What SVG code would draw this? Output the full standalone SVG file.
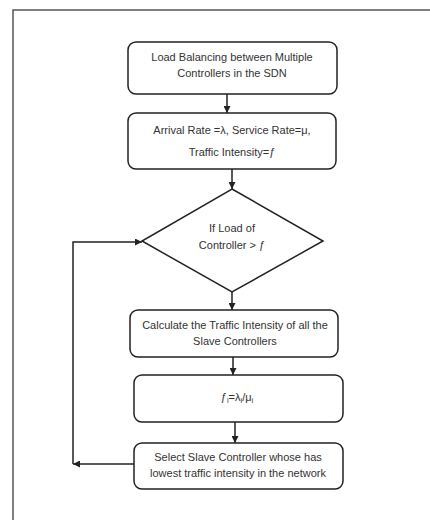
<svg xmlns="http://www.w3.org/2000/svg" width="430" height="520" viewBox="0 0 430 520">
  <style>
    .box { fill: #ffffff; stroke: #222222; stroke-width: 1.5; }
    .lbl { font-family: "Liberation Sans", Arial, sans-serif; font-size: 11px; fill: #333333; text-anchor: middle; }
    .sub { font-size: 7.5px; }
    .wire { fill: none; stroke: #222222; stroke-width: 1.5; }
  </style>
  <defs>
    <marker id="arrow" viewBox="0 0 10 10" refX="10" refY="5" markerWidth="7" markerHeight="7" markerUnits="userSpaceOnUse" orient="auto">
      <path d="M0,0 L10,5 L0,10 Z" fill="#222222"/>
    </marker>
  </defs>

  <rect width="430" height="520" fill="#ffffff"/>
  <!-- page frame -->
  <path d="M13,520 V10 H430" fill="none" stroke="#555555" stroke-width="1.5"/>

  <g id="start">
    <rect class="box" x="128" y="42" width="209" height="52" rx="8"/>
    <text class="lbl" x="232" y="61">Load Balancing between Multiple</text>
    <text class="lbl" x="232" y="77">Controllers in the SDN</text>
  </g>

  <g id="rates">
    <rect class="box" x="128" y="113" width="208" height="56" rx="8"/>
    <text class="lbl" x="232" y="134">Arrival Rate =λ, Service Rate=μ,</text>
    <text class="lbl" x="232" y="156">Traffic Intensity=ƒ</text>
  </g>

  <g id="decision">
    <polygon class="box" points="232,189 323,241 232,292 142,241"/>
    <text class="lbl" x="232" y="232">If Load of</text>
    <text class="lbl" x="232" y="249">Controller &gt; ƒ</text>
  </g>

  <g id="calculate">
    <rect class="box" x="130" y="310" width="208" height="47" rx="8"/>
    <text class="lbl" x="235" y="329">Calculate the Traffic Intensity of all the</text>
    <text class="lbl" x="235" y="345">Slave Controllers</text>
  </g>

  <g id="formula">
    <rect class="box" x="134" y="375" width="209" height="47" rx="8"/>
    <text class="lbl" x="237" y="401">ƒ<tspan class="sub" dy="2">i</tspan><tspan dy="-2">=λ</tspan><tspan class="sub" dy="2">i</tspan><tspan dy="-2">/μ</tspan><tspan class="sub" dy="2">i</tspan></text>
  </g>

  <g id="select">
    <rect class="box" x="134" y="443" width="209" height="46" rx="8"/>
    <text class="lbl" x="238" y="461">Select Slave Controller whose has</text>
    <text class="lbl" x="238" y="477">lowest traffic intensity in the network</text>
  </g>

  <g id="connectors">
    <line class="wire" x1="227" y1="94" x2="227" y2="113" marker-end="url(#arrow)"/>
    <line class="wire" x1="232" y1="169" x2="232" y2="189" marker-end="url(#arrow)"/>
    <line class="wire" x1="232" y1="292" x2="232" y2="310" marker-end="url(#arrow)"/>
    <line class="wire" x1="233" y1="357" x2="233" y2="375" marker-end="url(#arrow)"/>
    <line class="wire" x1="235" y1="422" x2="235" y2="443" marker-end="url(#arrow)"/>
    <line class="wire" x1="134" y1="464" x2="73" y2="464" marker-end="url(#arrow)"/>
    <polyline class="wire" points="73,464 73,242 142,242" marker-end="url(#arrow)"/>
  </g>
</svg>
